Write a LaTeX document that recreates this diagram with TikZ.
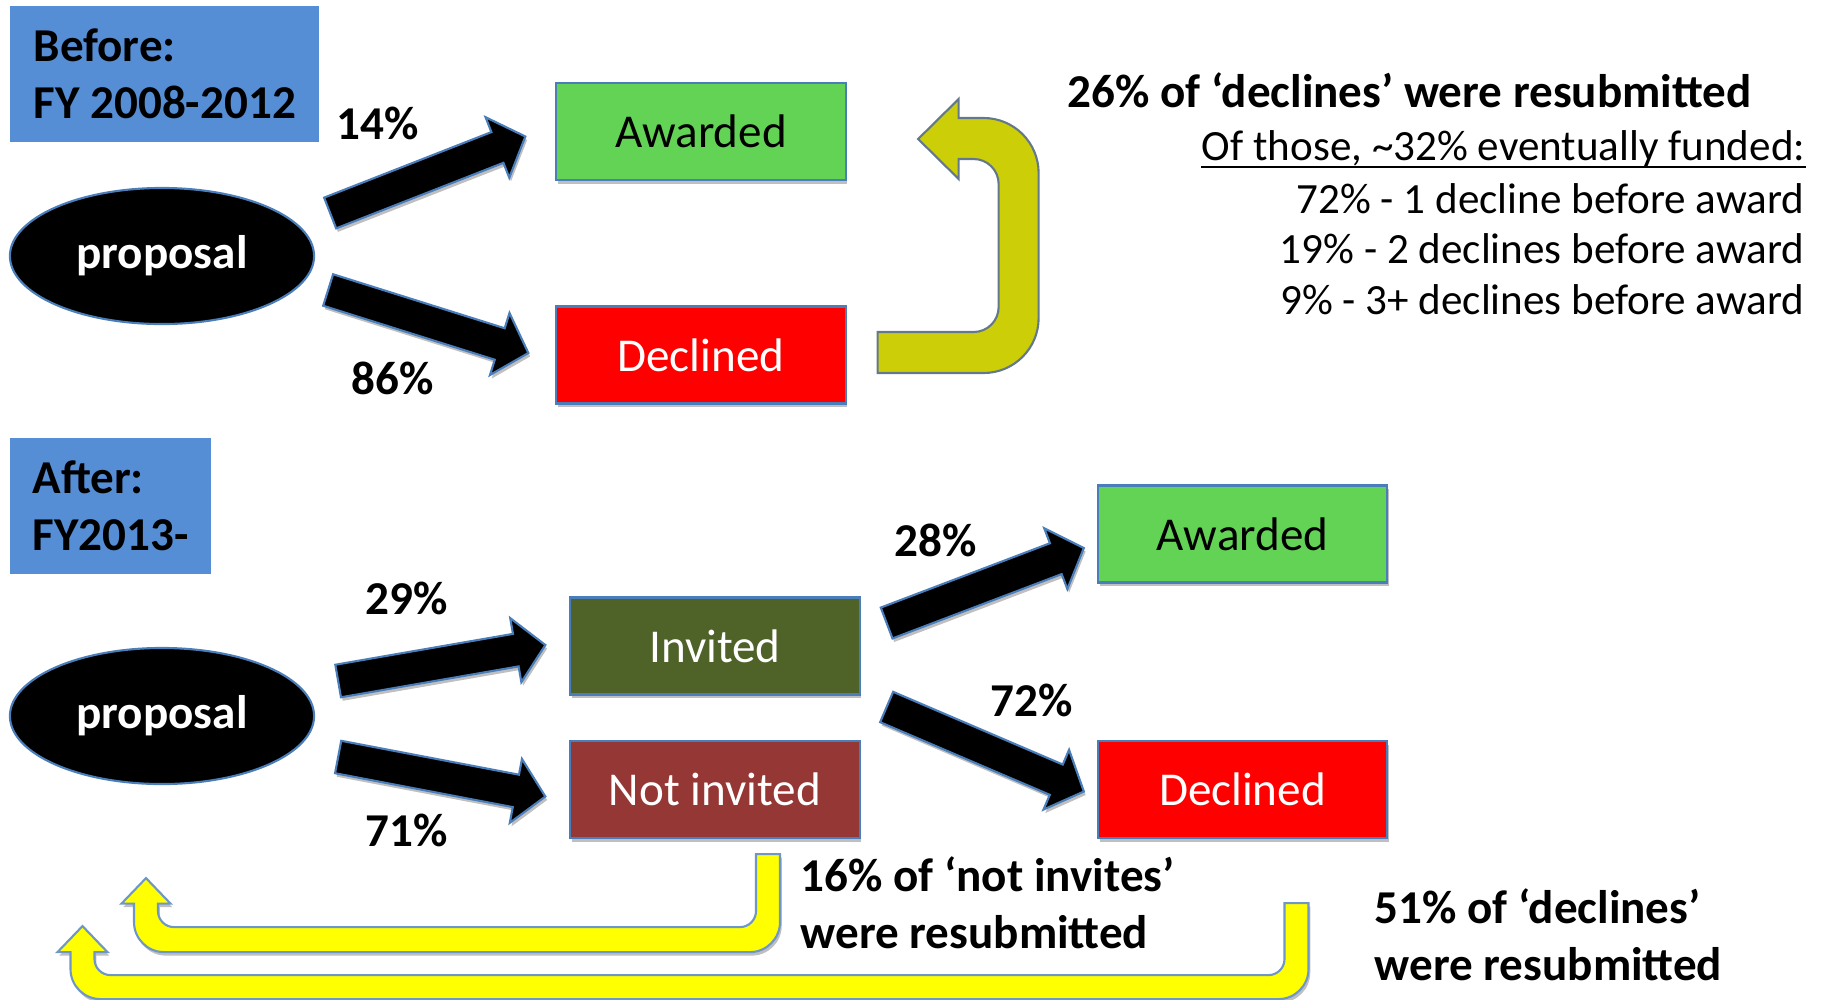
\documentclass[tikz,border=0pt]{standalone}
\usepackage{fontspec}
\setmainfont{Carlito}
\usetikzlibrary{shapes.geometric,calc,shadows}
\definecolor{azulcx}{RGB}{85,142,213}
\definecolor{verde}{RGB}{99,211,86}
\definecolor{vermelho}{RGB}{255,0,0}
\definecolor{oliva}{RGB}{79,98,40}
\definecolor{tijolo}{RGB}{149,55,53}
\definecolor{borda}{RGB}{74,126,187}
\definecolor{amarelo}{RGB}{255,255,0}
\definecolor{bordaclara}{RGB}{110,150,200}
\definecolor{amarelotopo}{RGB}{204,206,8}
\definecolor{cinza}{RGB}{100,120,140}
\newcommand{\grande}{\fontsize{13.4}{16.2}\selectfont}
\newcommand{\menor}{\fontsize{12.26}{14.5}\selectfont}
\newcommand{\seta}[2]{%
  \coordinate (s-a) at (#1);
  \coordinate (s-b) at (#2);
  \coordinate (s-h) at ($(s-b)!0.30cm!(s-a)$);
  \draw[bloco] ($(s-a)!0.165cm!90:(s-b)$) -- ($(s-h)!0.165cm!-90:(s-a)$)
    -- ($(s-h)!0.325cm!-90:(s-a)$) -- (s-b) -- ($(s-h)!0.325cm!90:(s-a)$)
    -- ($(s-h)!0.165cm!90:(s-a)$) -- ($(s-a)!0.165cm!-90:(s-b)$) -- cycle;}
\begin{document}
\begin{tikzpicture}[x=0.01cm, y=-0.01cm,
        sombra/.style={drop shadow={shadow xshift=0.5pt, shadow yshift=-1pt, opacity=0.25, fill=black}},
        periodo/.style={shape=rectangle, fill=azulcx, font=\grande\bfseries, align=left, minimum height=1.36cm},
        caixa/.style={shape=rectangle, draw=borda, line width=0.6pt, minimum width=2.89cm, minimum height=0.97cm, font=\grande, sombra},
        elipse/.style={shape=ellipse, fill=black, draw=borda, line width=0.6pt, text=white, font=\grande\bfseries, minimum width=3.04cm, minimum height=1.36cm},
        rotulo/.style={font=\grande\bfseries},
        lista/.style={font=\menor, inner sep=0pt, anchor=base east},
        bloco/.style={fill=black, draw=borda, line width=0.6pt, sombra},
        voltatopo/.style={fill=amarelotopo, draw=cinza, line width=0.6pt},
        volta/.style={fill=amarelo, draw=bordaclara, line width=0.6pt, sombra},
    ]
    \useasboundingbox (0,0) rectangle (1823,999);
    \node[periodo, minimum width=3.085cm] (antes) at (164.75,74) {Before:\\FY 2008-2012};
    \node[periodo, minimum width=2cm] (depois) at (110.5,506) {After:\\FY2013-};
    \node[elipse] (prop1) at (162,256) {proposal};
    \node[elipse] (prop2) at (162,716) {proposal};
    \node[caixa, fill=verde] (aw1) at (701,131.5) {Awarded};
    \node[caixa, fill=vermelho, text=white] (dec1) at (701,355) {Declined};
    \node[caixa, fill=oliva, text=white] (inv) at (715,646) {Invited};
    \node[caixa, fill=tijolo, text=white] (ninv) at (715,789.5) {Not invited};
    \node[caixa, fill=verde] (aw2) at (1242.5,534) {Awarded};
    \node[caixa, fill=vermelho, text=white] (dec2) at (1242.5,789.5) {Declined};
    \seta{[shift={(15,-43)}]prop1.east}{[shift={(-30,5)}]aw1.west}
    \seta{[shift={(13,34)}]prop1.east}{[shift={(-27,-2)}]dec1.west}
    \seta{[shift={(23,-35)}]prop2.east}{[shift={(-24,-1)}]inv.west}
    \seta{[shift={(23,41)}]prop2.east}{[shift={(-24,7)}]ninv.west}
    \seta{[shift={(26,-23)}]inv.east}{[shift={(-13,14)}]aw2.west}
    \seta{[shift={(26,61)}]inv.east}{[shift={(-13,2)}]dec2.west}
    \node[rotulo] (p14) at (378,123) {14\%};
    \node[rotulo] (p86) at (393,378) {86\%};
    \node[rotulo] (p29) at (407,598) {29\%};
    \node[rotulo] (p71) at (407,830) {71\%};
    \node[rotulo] (p28) at (936,540) {28\%};
    \node[rotulo] (p72) at (1032,700) {72\%};
    \draw[voltatopo] ([shift={(31,18)}]dec1.east) -- ++(0,-41) [rounded corners=0.25cm] -- ++(121,0) -- ++(0,-173)
        [sharp corners] -- ++(-40,0) -- ++(0,20) -- ++(-40.5,-40) -- ++(40.5,-40) -- ++(0,19)
        [rounded corners=0.55cm] -- ++(80,0) -- ++(0,255) [sharp corners] -- cycle;
    \draw[volta] ([shift={(41,15)}]ninv.south) -- ++(24,0) [rounded corners=0.3cm] -- ++(0,98) -- ++(-646,0)
        [sharp corners] -- ++(0,-48.5) -- ++(-12.5,0) -- ++(24.5,-25.5) -- ++(24.5,25.5) -- ++(-12.5,0)
        [rounded corners=0.16cm] -- ++(0,23.5) -- ++(598,0) [sharp corners] -- cycle;
    \draw[volta] ([shift={(42,64)}]dec2.south) -- ++(24,0) [rounded corners=0.3cm] -- ++(0,96) -- ++(-1238,0)
        [sharp corners] -- ++(0,-47) -- ++(-13,0) -- ++(25,-26) -- ++(25,26) -- ++(-13,0)
        [rounded corners=0.16cm] -- ++(0,23) -- ++(1190,0) [sharp corners] -- cycle;
    \node[rotulo, anchor=base west, inner sep=0pt] (tit) at (1067,107) {26\% of ‘declines’ were resubmitted};
    \node[lista] (fund) at (1806,160) {Of those, \textasciitilde 32\% eventually funded:};
    \draw[line width=0.55pt] ([yshift=-2pt]fund.base west) -- ([yshift=-2pt]fund.base east);
    \node[lista] (l1) at (1805,213) {72\% - 1 decline before award};
    \node[lista] (l2) at (1805,263) {19\% - 2 declines before award};
    \node[lista] (l3) at (1805,314) {9\% - 3+ declines before award};
    \node[rotulo, anchor=base west, align=left, inner sep=0pt] (t16) at (800,948) {16\% of ‘not invites’\\were resubmitted};
    \node[rotulo, anchor=base west, align=left, inner sep=0pt] (t51) at (1374,980) {51\% of ‘declines’\\were resubmitted};
\end{tikzpicture}
\end{document}
